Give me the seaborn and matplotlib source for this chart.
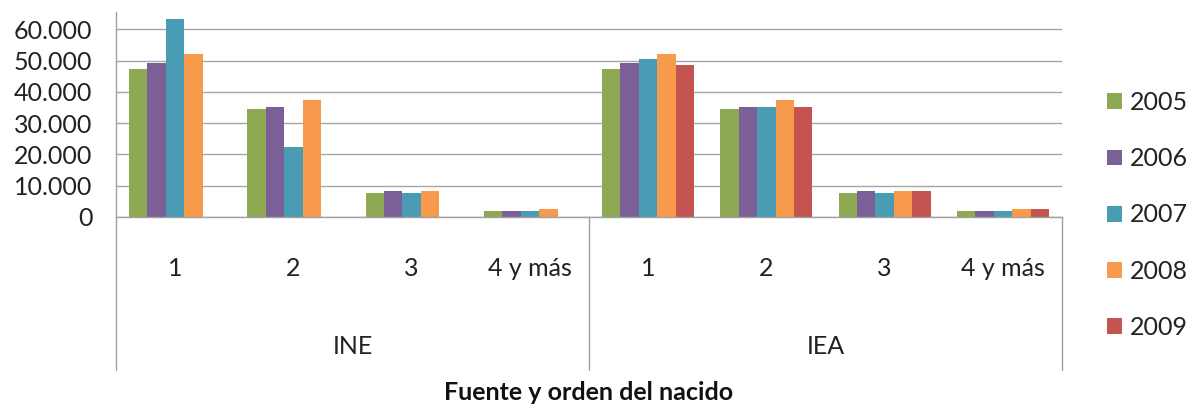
import numpy as np
import pandas as pd
import matplotlib
matplotlib.use("Agg")
import matplotlib.pyplot as plt
import seaborn as sns
from matplotlib.ticker import FuncFormatter, FixedLocator
from matplotlib.transforms import blended_transform_factory

# ---- data ----
sources = ["INE", "IEA"]
orders = ["1", "2", "3", "4 y más"]
years = ["2005", "2006", "2007", "2008", "2009"]
# values per year: INE (1,2,3,4 y más) then IEA (1,2,3,4 y más)
v2005 = [47200, 34400, 7700, 1900, 47200, 34400, 7700, 1900]
v2006 = [49100, 35300, 8200, 1900, 49100, 35300, 8200, 1900]
v2007 = [63400, 22400, 7700, 1900, 50600, 35300, 7700, 1900]
v2008 = [52000, 37300, 8200, 2400, 52000, 37300, 8200, 2400]
v2009 = [np.nan, np.nan, np.nan, np.nan, 48700, 35300, 8200, 2400]
yticks = [0, 10000, 20000, 30000, 40000, 50000, 60000]
colors = ["#8EA854", "#7B5F97", "#4A9CB5", "#F79A4C", "#C3544F"]
xlabel = "Fuente y orden del nacido"

series = dict(zip(years, [v2005, v2006, v2007, v2008, v2009]))
cats = [f"{s}|{o}" for s in sources for o in orders]
rows = []
for y, vals in series.items():
    for c, v in zip(cats, vals):
        rows.append({"cat": c, "year": y, "value": v})
df = pd.DataFrame(rows)

sns.set_theme(style="white")
plt.rcParams["font.family"] = ["Lato", "DejaVu Sans"]

W, H = 1191, 408
fig = plt.figure(figsize=(W / 100, H / 100), dpi=100)
ax = fig.add_axes([116 / W, (H - 217) / H, (1062 - 116) / W, (217 - 12.3) / H])

sns.barplot(data=df, x="cat", y="value", hue="year", order=cats,
            hue_order=years, palette=colors, width=0.78, gap=0,
            linewidth=0, saturation=1, ax=ax)

ax.set_xlim(-0.5, len(cats) - 0.5)
ax.set_ylim(0, 65400)
ax.yaxis.set_major_locator(FixedLocator(yticks))
ax.yaxis.set_major_formatter(FuncFormatter(lambda v, p: f"{int(v):,}".replace(",", ".")))
ax.grid(axis="y", color="#A6A6A6", linewidth=1.0)
ax.set_axisbelow(True)
for side in ["top", "right"]:
    ax.spines[side].set_visible(False)
for side in ["left", "bottom"]:
    ax.spines[side].set_color("#A0A0A0")
    ax.spines[side].set_linewidth(1.0)
ax.tick_params(axis="y", length=0, pad=17, labelsize=18, labelcolor="#222222")
ax.set_xticks([])
ax.set_xlabel("")
ax.set_ylabel("")

# multi-level category labels
tr = blended_transform_factory(ax.transData, ax.transAxes)
ax_h = 217 - 12.3
def yfrac(ypix):
    return (217 - ypix) / ax_h

for i, c in enumerate(cats):
    ax.text(i, yfrac(268), c.split("|")[1], transform=tr, ha="center",
            va="center", fontsize=18, color="#222222", clip_on=False)
n = len(orders)
for j, s in enumerate(sources):
    ax.text(j * n + (n - 1) / 2, yfrac(347), s, transform=tr, ha="center",
            va="center", fontsize=18, color="#222222", clip_on=False)
for b in range(len(sources) + 1):
    ax.plot([b * n - 0.5, b * n - 0.5], [0, yfrac(370)], transform=tr,
            color="#A0A0A0", linewidth=1.0, clip_on=False)
ax.text((len(cats) - 1) / 2, yfrac(392), xlabel, transform=tr, ha="center",
        va="center", fontsize=18, fontweight="bold", color="#111111", clip_on=False)

sns.move_legend(ax, "center left", bbox_to_anchor=(1107 / W, (H - 215) / H),
                bbox_transform=fig.transFigure, frameon=False, title=None,
                fontsize=18, handlelength=0.6, handleheight=0.6,
                handletextpad=0.3, labelspacing=1.33, borderpad=0, borderaxespad=0)
for t in ax.get_legend().get_texts():
    t.set_color("#222222")

fig.savefig("out.png", dpi=100)
